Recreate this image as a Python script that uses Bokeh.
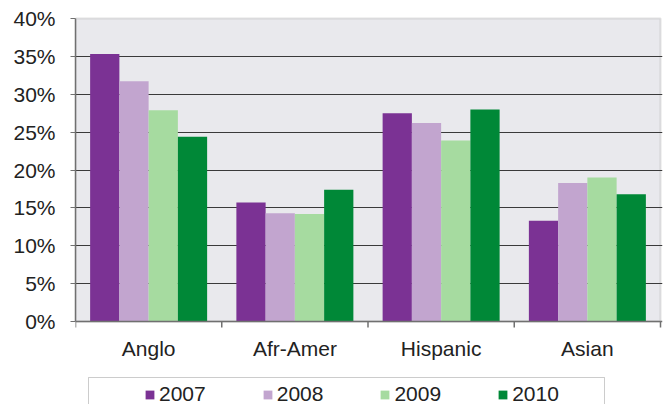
from bokeh.plotting import figure
from bokeh.models import (ColumnDataSource, FixedTicker, NumeralTickFormatter,
                          Legend, LegendItem, BoxAnnotation, Range1d, Span)
from bokeh.core.properties import value
from bokeh.embed import file_html
from bokeh.resources import INLINE

categories = ["Anglo", "Afr-Amer", "Hispanic", "Asian"]
years = ["2007", "2008", "2009", "2010"]
v2007 = [0.353, 0.157, 0.275, 0.133]
v2008 = [0.317, 0.143, 0.262, 0.183]
v2009 = [0.279, 0.142, 0.239, 0.190]
v2010 = [0.244, 0.174, 0.280, 0.168]
colors = ["#7B3294", "#C2A5CF", "#A6DBA0", "#008837"]
y_ticks = [0, 0.05, 0.10, 0.15, 0.20, 0.25, 0.30, 0.35, 0.40]

FONT = "Liberation Sans"
TXT = "#222222"
AXIS = "#707070"

# layout (pixels)
W, H = 664, 404
LEFT, RIGHT_EDGE = 75, 660
TOP0, ZERO_Y = 18, 321
n = len(categories)
px_per_x = (RIGHT_EDGE - LEFT) / n
px_per_y = (ZERO_Y - TOP0) / y_ticks[-1]
pad_top, pad_right = 2, 2

p = figure(width=W, height=H, output_backend="svg", toolbar_location=None,
           x_axis_location=None,
           x_range=Range1d(0, n + pad_right / px_per_x),
           y_range=Range1d(-(H - ZERO_Y) / px_per_y, y_ticks[-1] + pad_top / px_per_y),
           min_border_left=LEFT, min_border_right=W - RIGHT_EDGE - pad_right,
           min_border_top=TOP0 - pad_top, min_border_bottom=0)
p.background_fill_color = "white"
p.border_fill_color = "white"
p.outline_line_color = None

# plot area background with gray border
area = BoxAnnotation(left=0, right=n, bottom=0, top=y_ticks[-1],
                     fill_color="#e9e9ed", fill_alpha=1,
                     line_color="#a3a3a3", line_width=2, level="image")
p.add_layout(area)

series = [v2007, v2008, v2009, v2010]
offsets = [-0.3, -0.1, 0.1, 0.3]
renderers = []
for vals, off, col in zip(series, offsets, colors):
    src = ColumnDataSource(dict(x=[i + 0.5 + off for i in range(n)], top=vals))
    r = p.vbar(x="x", top="top", width=0.2, bottom=0, source=src,
               fill_color=col, line_color=None)
    renderers.append(r)

# y axis
p.yaxis.ticker = FixedTicker(ticks=y_ticks)
p.yaxis.bounds = (0, y_ticks[-1])
p.yaxis.formatter = NumeralTickFormatter(format="0%")
p.yaxis.major_label_text_font = FONT
p.yaxis.major_label_text_font_size = "21px"
p.yaxis.major_label_text_color = TXT
p.yaxis.major_label_standoff = 15
p.yaxis.major_tick_out = 5
p.yaxis.major_tick_in = 0
p.yaxis.minor_tick_line_color = None
p.yaxis.axis_line_color = AXIS
p.yaxis.axis_line_width = 1.5
p.yaxis.major_tick_line_color = AXIS

p.ygrid.ticker = FixedTicker(ticks=y_ticks[1:-1])
p.ygrid.grid_line_color = "#3a3a3a"
p.ygrid.grid_line_width = 1
p.xgrid.grid_line_color = None

# x axis line, boundary ticks and category labels
p.add_layout(Span(location=0, dimension="width", line_color=AXIS, line_width=1.5))
bounds = list(range(n + 1))
p.segment(x0=bounds, y0=[0] * len(bounds), x1=bounds,
          y1=[-6 / px_per_y] * len(bounds), line_color=AXIS, line_width=1.5)
centers = [i + 0.5 for i in range(n)]
p.text(x=centers, y=[0] * n, text=categories, y_offset=27,
       text_align="center", text_baseline="alphabetic",
       text_font=value(FONT), text_font_size=value("21px"), text_color=TXT)

# legend
items = [LegendItem(label=y, renderers=[r]) for y, r in zip(years, renderers)]
legend = Legend(items=items, orientation="horizontal", location=(144 - LEFT, -2),
                glyph_width=11, glyph_height=11, label_standoff=4,
                label_width=46, spacing=56, padding=0, margin=0,
                border_line_color=None, background_fill_alpha=0,
                label_text_font=FONT, label_text_font_size="21px",
                label_text_color=TXT)
p.add_layout(legend, "center")

box = BoxAnnotation(left=88, right=604, top=377, bottom=440,
                    left_units="canvas", right_units="canvas",
                    top_units="canvas", bottom_units="canvas",
                    fill_alpha=0, line_color="#555555", line_width=1)
p.add_layout(box)

open("out.html", "w").write(file_html(p, INLINE))
